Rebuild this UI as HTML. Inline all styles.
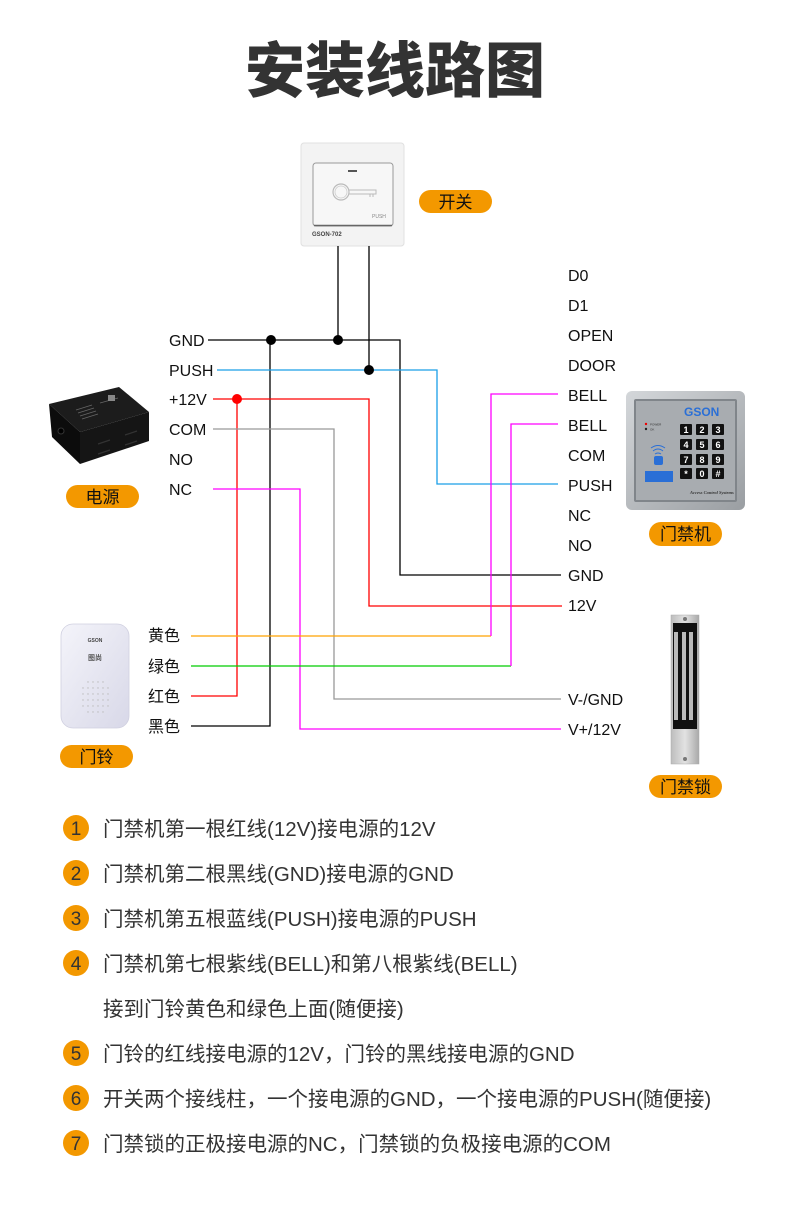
<!DOCTYPE html>
<html><head><meta charset="utf-8"><style>
html,body{margin:0;padding:0;background:#fff;}
body{width:790px;height:1220px;overflow:hidden;}
svg{display:block;}
.lb{font-family:"Liberation Sans","Noto Sans CJK SC",sans-serif;font-size:16px;fill:#111;}
.cn{font-family:"Liberation Sans","Noto Sans CJK SC",sans-serif;font-size:16px;fill:#111;}
.bd{font-family:"Liberation Sans","Noto Sans CJK SC",sans-serif;font-size:17px;fill:#111;text-anchor:middle;}
.ls{font-family:"Liberation Sans","Noto Sans CJK SC",sans-serif;font-size:20.5px;fill:#333;}
.num{font-family:"Liberation Sans",sans-serif;font-size:19px;fill:#333;text-anchor:middle;}
</style></head><body>
<svg width="790" height="1220" viewBox="0 0 790 1220" xmlns="http://www.w3.org/2000/svg">
<defs>
<linearGradient id="kp" x1="0" y1="0" x2="1" y2="1"><stop offset="0" stop-color="#d4d7da"/><stop offset="1" stop-color="#9a9ea2"/></linearGradient>
<linearGradient id="lk" x1="0" y1="0" x2="1" y2="0"><stop offset="0" stop-color="#bdbdbd"/><stop offset="0.5" stop-color="#e2e2e2"/><stop offset="1" stop-color="#a9a9a9"/></linearGradient>
<linearGradient id="db" x1="0" y1="0" x2="1" y2="1"><stop offset="0" stop-color="#f4f4fa"/><stop offset="1" stop-color="#d8d8e8"/></linearGradient>
</defs>

<!-- Title -->
<text x="395" y="92" text-anchor="middle" font-family="'Noto Sans CJK SC',sans-serif" font-weight="900" font-size="60" fill="#333">安装线路图</text>

<!-- Switch -->
<rect x="301" y="143" width="103" height="103" rx="3" fill="#f3f3f3" stroke="#e0e0e0"/>
<rect x="313" y="163" width="80" height="63" rx="3" fill="#f7f7f7" stroke="#999" stroke-width="1"/>
<line x1="314" y1="225.5" x2="392" y2="225.5" stroke="#666" stroke-width="1.5"/>
<rect x="348" y="170" width="9" height="2" fill="#555"/>
<circle cx="341" cy="192" r="8" fill="none" stroke="#bbb" stroke-width="1.2"/>
<circle cx="341" cy="192" r="6" fill="none" stroke="#ccc" stroke-width="0.8"/>
<path d="M349 190 H376 V194 H349 M370 194 V197 M373 194 V197" fill="none" stroke="#bbb" stroke-width="1"/>
<text x="372" y="218" font-family="'Liberation Sans',sans-serif" font-size="5" fill="#888">PUSH</text>
<text x="312" y="236" font-family="'Liberation Sans',sans-serif" font-size="6" font-weight="bold" fill="#444">GSON-702</text>

<!-- Badges -->
<rect x="419" y="190" width="73" height="23" rx="11.5" fill="#f39800"/>
<text class="bd" x="455.5" y="208">开关</text>
<rect x="66" y="485" width="73" height="23" rx="11.5" fill="#f39800"/>
<text class="bd" x="102.5" y="503">电源</text>
<rect x="649" y="522" width="73" height="24" rx="12" fill="#f39800"/>
<text class="bd" x="685.5" y="540">门禁机</text>
<rect x="60" y="745" width="73" height="23" rx="11.5" fill="#f39800"/>
<text class="bd" x="96.5" y="763">门铃</text>
<rect x="649" y="775" width="73" height="23" rx="11.5" fill="#f39800"/>
<text class="bd" x="685.5" y="793">门禁锁</text>

<!-- Power box -->
<polygon points="49,404 119,387 149,412 80,432" fill="#1c1c1c"/>
<polygon points="49,404 80,432 80,464 52,437" fill="#0c0c0c"/>
<polygon points="80,432 149,412 149,441 80,464" fill="#151515"/>
<g stroke="#666" stroke-width="0.8">
<line x1="76" y1="410" x2="92" y2="405"/><line x1="78" y1="413" x2="94" y2="408"/><line x1="80" y1="416" x2="96" y2="411"/><line x1="82" y1="419" x2="98" y2="414"/>
<line x1="100" y1="403" x2="118" y2="398"/>
</g>
<rect x="108" y="395" width="7" height="6" fill="#888"/>
<g stroke="#333" stroke-width="1.2"><line x1="98" y1="444" x2="110" y2="440"/><line x1="125" y1="435" x2="137" y2="431"/><line x1="98" y1="454" x2="110" y2="450"/><line x1="125" y1="445" x2="137" y2="441"/></g>
<circle cx="61" cy="431" r="3" fill="#000" stroke="#333"/>

<!-- Keypad -->
<rect x="626" y="391" width="119" height="119" rx="6" fill="url(#kp)"/>
<rect x="634" y="399" width="103" height="103" rx="2" fill="#80858a"/>
<rect x="636" y="401" width="99" height="99" fill="#a8acb0"/>
<text x="684" y="416" font-family="'Liberation Sans',sans-serif" font-size="12" font-weight="bold" fill="#2a6fd6">GSON</text>
<circle cx="646" cy="424" r="1.2" fill="#e00"/><circle cx="646" cy="429" r="1.2" fill="#222"/>
<text x="650" y="425.5" font-family="'Liberation Sans',sans-serif" font-size="3" fill="#333">POWER</text>
<text x="650" y="430.5" font-family="'Liberation Sans',sans-serif" font-size="3" fill="#333">OK</text>
<g fill="#111">
<rect x="680" y="424" width="12" height="11" rx="1"/><rect x="696" y="424" width="12" height="11" rx="1"/><rect x="712" y="424" width="12" height="11" rx="1"/>
<rect x="680" y="439" width="12" height="11" rx="1"/><rect x="696" y="439" width="12" height="11" rx="1"/><rect x="712" y="439" width="12" height="11" rx="1"/>
<rect x="680" y="454" width="12" height="11" rx="1"/><rect x="696" y="454" width="12" height="11" rx="1"/><rect x="712" y="454" width="12" height="11" rx="1"/>
<rect x="680" y="468" width="12" height="11" rx="1"/><rect x="696" y="468" width="12" height="11" rx="1"/><rect x="712" y="468" width="12" height="11" rx="1"/>
</g>
<g font-family="'Liberation Sans',sans-serif" font-size="9" font-weight="bold" fill="#fff" text-anchor="middle">
<text x="686" y="433">1</text><text x="702" y="433">2</text><text x="718" y="433">3</text>
<text x="686" y="448">4</text><text x="702" y="448">5</text><text x="718" y="448">6</text>
<text x="686" y="463">7</text><text x="702" y="463">8</text><text x="718" y="463">9</text>
<text x="686" y="477">*</text><text x="702" y="477">0</text><text x="718" y="477">#</text>
</g>
<g fill="none" stroke="#2a6fd6" stroke-width="1">
<path d="M651 448 Q658 443 665 448"/><path d="M653 451 Q658 447 663 451"/><path d="M655 454 Q658 452 661 454"/>
</g>
<rect x="654" y="456" width="9" height="9" rx="2" fill="#2a6fd6"/>
<rect x="645" y="471" width="28" height="11" fill="#2a6fd6"/>
<text x="690" y="494" font-family="'Liberation Serif',serif" font-size="4.5" font-style="italic" font-weight="bold" fill="#333">Access Control Systems</text>

<!-- Lock -->
<rect x="671" y="615" width="28" height="149" fill="url(#lk)" stroke="#aaa" stroke-width="0.5"/>
<rect x="673" y="623" width="24" height="106" fill="#111"/>
<rect x="674" y="632" width="4" height="88" fill="#bbb"/>
<rect x="682" y="632" width="4" height="88" fill="#bbb"/>
<rect x="689" y="632" width="4" height="88" fill="#bbb"/>
<circle cx="685" cy="619" r="2" fill="#777"/>
<circle cx="685" cy="759" r="2" fill="#777"/>

<!-- Doorbell -->
<rect x="61" y="624" width="68" height="104" rx="12" fill="url(#db)" stroke="#d0d0e0" stroke-width="0.8"/>
<text x="95" y="642" text-anchor="middle" font-family="'Liberation Sans',sans-serif" font-size="5" font-weight="bold" fill="#444">GSON</text>
<text x="95" y="660" text-anchor="middle" font-family="'Noto Sans CJK SC',sans-serif" font-size="7" font-weight="bold" fill="#555">图尚</text>
<g fill="#bbb">
<circle cx="88" cy="682" r="0.7"/><circle cx="93" cy="682" r="0.7"/><circle cx="98" cy="682" r="0.7"/><circle cx="103" cy="682" r="0.7"/>
<circle cx="83" cy="688" r="0.7"/><circle cx="88" cy="688" r="0.7"/><circle cx="93" cy="688" r="0.7"/><circle cx="98" cy="688" r="0.7"/><circle cx="103" cy="688" r="0.7"/><circle cx="108" cy="688" r="0.7"/>
<circle cx="83" cy="694" r="0.7"/><circle cx="88" cy="694" r="0.7"/><circle cx="93" cy="694" r="0.7"/><circle cx="98" cy="694" r="0.7"/><circle cx="103" cy="694" r="0.7"/><circle cx="108" cy="694" r="0.7"/>
<circle cx="83" cy="700" r="0.7"/><circle cx="88" cy="700" r="0.7"/><circle cx="93" cy="700" r="0.7"/><circle cx="98" cy="700" r="0.7"/><circle cx="103" cy="700" r="0.7"/><circle cx="108" cy="700" r="0.7"/>
<circle cx="83" cy="706" r="0.7"/><circle cx="88" cy="706" r="0.7"/><circle cx="93" cy="706" r="0.7"/><circle cx="98" cy="706" r="0.7"/><circle cx="103" cy="706" r="0.7"/><circle cx="108" cy="706" r="0.7"/>
<circle cx="88" cy="712" r="0.7"/><circle cx="93" cy="712" r="0.7"/><circle cx="98" cy="712" r="0.7"/><circle cx="103" cy="712" r="0.7"/>
</g>

<!-- Wires -->
<g fill="none" stroke-width="1.3">
<path d="M338 246 V340" stroke="#000"/>
<path d="M369 246 V370" stroke="#000"/>
<path d="M208 340 H400 V575 H561" stroke="#000"/>
<path d="M270 340 V726 H191" stroke="#000"/>
<path d="M217 370 H437 V484 H558" stroke="#1a9fe8"/>
<path d="M213 399 H369 V606 H562" stroke="#ff0000"/>
<path d="M237 399 V696 H191" stroke="#ff0000"/>
<path d="M213 429 H334 V699 H561" stroke="#999"/>
<path d="M213 489 H300 V729 H561" stroke="#ff00ff"/>
<path d="M191 636 H491" stroke="#ffa200"/>
<path d="M558 394 H491 V636" stroke="#ff00ff"/>
<path d="M191 666 H511" stroke="#00cc00"/>
<path d="M558 424 H511 V666" stroke="#ff00ff"/>
</g>
<circle cx="271" cy="340" r="5" fill="#000"/>
<circle cx="338" cy="340" r="5" fill="#000"/>
<circle cx="369" cy="370" r="5" fill="#000"/>
<circle cx="237" cy="399" r="5" fill="#ff0000"/>

<!-- Left labels -->
<text class="lb" x="169" y="346">GND</text>
<text class="lb" x="169" y="376">PUSH</text>
<text class="lb" x="169" y="405">+12V</text>
<text class="lb" x="169" y="435">COM</text>
<text class="lb" x="169" y="465">NO</text>
<text class="lb" x="169" y="495">NC</text>

<!-- Right labels -->
<text class="lb" x="568" y="281">D0</text>
<text class="lb" x="568" y="311">D1</text>
<text class="lb" x="568" y="341">OPEN</text>
<text class="lb" x="568" y="371">DOOR</text>
<text class="lb" x="568" y="401">BELL</text>
<text class="lb" x="568" y="431">BELL</text>
<text class="lb" x="568" y="461">COM</text>
<text class="lb" x="568" y="491">PUSH</text>
<text class="lb" x="568" y="521">NC</text>
<text class="lb" x="568" y="551">NO</text>
<text class="lb" x="568" y="581">GND</text>
<text class="lb" x="568" y="611">12V</text>
<text class="lb" x="568" y="705">V-/GND</text>
<text class="lb" x="568" y="735">V+/12V</text>

<!-- Doorbell color labels -->
<text class="cn" x="148" y="641">黄色</text>
<text class="cn" x="148" y="672">绿色</text>
<text class="cn" x="148" y="702">红色</text>
<text class="cn" x="148" y="732">黑色</text>

<!-- List -->
<g>
<circle cx="76" cy="828" r="13" fill="#f39800"/><text class="num" x="76" y="835">1</text>
<circle cx="76" cy="873" r="13" fill="#f39800"/><text class="num" x="76" y="880">2</text>
<circle cx="76" cy="918" r="13" fill="#f39800"/><text class="num" x="76" y="925">3</text>
<circle cx="76" cy="963" r="13" fill="#f39800"/><text class="num" x="76" y="970">4</text>
<circle cx="76" cy="1053" r="13" fill="#f39800"/><text class="num" x="76" y="1060">5</text>
<circle cx="76" cy="1098" r="13" fill="#f39800"/><text class="num" x="76" y="1105">6</text>
<circle cx="76" cy="1143" r="13" fill="#f39800"/><text class="num" x="76" y="1150">7</text>
</g>
<text class="ls" x="103" y="836">门禁机第一根红线(12V)接电源的12V</text>
<text class="ls" x="103" y="881">门禁机第二根黑线(GND)接电源的GND</text>
<text class="ls" x="103" y="926">门禁机第五根蓝线(PUSH)接电源的PUSH</text>
<text class="ls" x="103" y="971">门禁机第七根紫线(BELL)和第八根紫线(BELL)</text>
<text class="ls" x="103" y="1016">接到门铃黄色和绿色上面(随便接)</text>
<text class="ls" x="103" y="1061">门铃的红线接电源的12V，门铃的黑线接电源的GND</text>
<text class="ls" x="103" y="1106">开关两个接线柱，一个接电源的GND，一个接电源的PUSH(随便接)</text>
<text class="ls" x="103" y="1151">门禁锁的正极接电源的NC，门禁锁的负极接电源的COM</text>
</svg>
</body></html>
